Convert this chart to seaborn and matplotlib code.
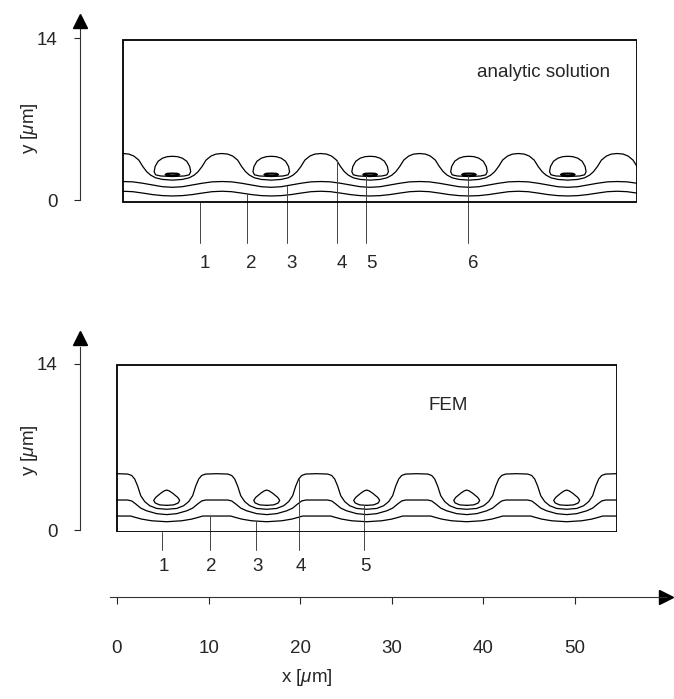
import numpy as np
import pandas as pd
import matplotlib
matplotlib.use("Agg")
import matplotlib.pyplot as plt
from matplotlib.patches import Rectangle
from matplotlib import transforms
import seaborn as sns

# ---------------- data ----------------
# centres of the periodic cells (x in um)
top_centers = [5, 15, 25, 35, 45, 55]
bot_centers = [5, 15, 25, 35, 45]
loop_centers = [5, 15, 25, 35, 45]

# analytic solution: half-period profiles (offset from cell centre, y in um)
top_a_dx = [0, 1.0, 1.7, 2.2, 2.6, 3.0, 3.4, 3.9, 4.4, 5.0]
top_a_y = [1.72, 1.78, 1.92, 2.15, 2.45, 2.9, 3.45, 3.8, 3.97, 4.02]
top_b_dx = [0, 1.0, 2.0, 3.0, 4.0, 5.0]
top_b_y = [1.1, 1.15, 1.3, 1.45, 1.57, 1.6]
top_c_dx = [0, 1.0, 2.0, 3.0, 4.0, 5.0]
top_c_y = [0.35, 0.38, 0.47, 0.6, 0.72, 0.76]
top_loop_dx = [0, 1.2, 1.7, 1.85, 1.75, 1.45, 1.0, 0.5, 0]
top_loop_y = [2.03, 2.08, 2.18, 2.45, 2.9, 3.35, 3.62, 3.75, 3.78]
top_dash_dx = [0, 0.5, 0.7, 0.5, 0]
top_dash_y = [2.1, 2.12, 2.2, 2.28, 2.3]

# FEM: half-period profiles
bot_a_dx = [0, 1.0, 1.7, 2.2, 2.6, 2.9, 3.2, 3.5, 3.9, 5.0]
bot_a_y = [1.75, 1.82, 2.05, 2.4, 2.9, 3.7, 4.3, 4.6, 4.72, 4.75]
bot_b_dx = [0, 1.0, 2.0, 2.6, 3.1, 3.5, 3.9, 5.0]
bot_b_y = [1.3, 1.38, 1.62, 1.85, 2.2, 2.45, 2.53, 2.53]
bot_c_dx = [0, 1.5, 2.5, 3.2, 3.6, 5.0]
bot_c_y = [0.7, 0.78, 0.92, 1.08, 1.18, 1.18]
bot_loop_dx = [0, 0.7, 1.15, 1.3, 1.1, 0.6, 0.25, 0]
bot_loop_y = [2.08, 2.12, 2.28, 2.5, 2.75, 3.1, 3.3, 3.37]

# numbered leaders
top_labels = ["1", "2", "3", "4", "5", "6"]
top_leader_x = [7.8, 12.5, 16.6, 21.6, 24.6, 34.9]
top_leader_target = ["box", "c", "b", "a", "dash", "dash"]
bot_labels = ["1", "2", "3", "4", "5"]
bot_leader_x = [4.5, 9.3, 13.9, 18.2, 24.7]
bot_leader_target = ["box", "c", "c", "a", "loop"]

x_ticks = [0, 10, 20, 30, 40, 50]
y_ticks = [0, 14]

# ---------------- styling ----------------
sns.set_style("white")
plt.rcParams["font.family"] = ["Liberation Sans", "DejaVu Sans"]
plt.rcParams["mathtext.fontset"] = "custom"
plt.rcParams["mathtext.rm"] = "Liberation Sans"
plt.rcParams["mathtext.it"] = "Liberation Sans:italic"
FS = 13.5
LW = 0.9

W, H = 674, 699
fig = plt.figure(figsize=(W / 100, H / 100), dpi=100)


def fx(px):
    return px / W


def fy(py):
    return 1 - py / H


def periodic_line(dx_half, y_half, centers, x0, x1):
    dxh = np.asarray(dx_half, float)
    yh = np.asarray(y_half, float)
    dx = np.concatenate([-dxh[:0:-1], dxh])
    yy = np.concatenate([yh[:0:-1], yh])
    xs = np.concatenate([c + dx for c in centers])
    ys = np.tile(yy, len(centers))
    keep = np.r_[True, np.diff(xs) > 1e-9]
    xs, ys = xs[keep], ys[keep]
    ye = np.interp([x0, x1], xs, ys)
    m = (xs > x0) & (xs < x1)
    return np.r_[x0, xs[m], x1], np.r_[ye[0], ys[m], ye[1]]


def loops(dx_half, y_half, centers):
    dxh = np.asarray(dx_half, float)
    yh = np.asarray(y_half, float)
    rows = []
    for i, c in enumerate(centers):
        xs = np.r_[c + dxh, c - dxh[::-1]]
        ys = np.r_[yh, yh[::-1]]
        for x, y in zip(xs, ys):
            rows.append({"x": x, "y": y, "unit": i})
    return pd.DataFrame(rows)


def draw_line(ax, xs, ys, lw=LW):
    sns.lineplot(x=xs, y=ys, sort=False, estimator=None, color="black",
                 linewidth=lw, ax=ax, legend=False)


def draw_loops(ax, df, lw=LW):
    sns.lineplot(data=df, x="x", y="y", units="unit", estimator=None,
                 sort=False, color="black", linewidth=lw, ax=ax, legend=False)


def setup_panel(ax, xlim, ylim, box, spine_top, arrow_y, ylabel_py):
    ax.set_xlim(*xlim)
    ax.set_ylim(*ylim)
    for s in ["top", "right", "bottom"]:
        ax.spines[s].set_visible(False)
    ax.spines["left"].set_bounds(0, spine_top)
    ax.spines["left"].set_linewidth(0.8)
    ax.spines["left"].set_color("#333333")
    ax.set_xticks([])
    ax.set_yticks(y_ticks)
    ax.set_yticklabels([str(t) for t in y_ticks])
    ax.tick_params(axis="y", direction="out", length=4, width=0.8,
                   pad=12, labelsize=FS, left=True)
    ax.add_patch(Rectangle((box[0], box[1]), box[2] - box[0], box[3] - box[1],
                           fill=False, ec="black", lw=1.3, zorder=3))
    ax.plot([xlim[0]], [arrow_y], marker="^", ms=10, color="black",
            clip_on=False, zorder=4)
    ax.set_ylabel("y [$\\mu$m]", fontsize=FS)
    ax.yaxis.label.set_va("center")
    ax.yaxis.set_label_coords(fx(29), fy(ylabel_py), transform=fig.transFigure)
    ax.set_xlabel("")
    ax.patch.set_alpha(0)


# ---------------- top panel: analytic solution ----------------
ax1 = fig.add_axes([fx(80), fy(203.5), (637 - 80) / W, (203.5 - 20.7) / H])
t_box = (0, -0.2, 52, 13.83)
ta = periodic_line(top_a_dx, top_a_y, top_centers, 0, 52)
tb = periodic_line(top_b_dx, top_b_y, top_centers, 0, 52)
tc = periodic_line(top_c_dx, top_c_y, top_centers, 0, 52)
for xs, ys in (ta, tb, tc):
    draw_line(ax1, xs, ys)
draw_loops(ax1, loops(top_loop_dx, top_loop_y, loop_centers))
draw_loops(ax1, loops(top_dash_dx, top_dash_y, loop_centers), lw=1.4)
setup_panel(ax1, (-4.35, 52), (-0.3, 15.5), t_box, 15.0, 15.45, 128)
ax1.text(42.5, 11.06, "analytic solution", ha="center", va="center", fontsize=FS)

t_lines = {"a": ta, "b": tb, "c": tc}
for lab, lx, tg in zip(top_labels, top_leader_x, top_leader_target):
    if tg == "box":
        y0 = t_box[1]
    elif tg == "dash":
        y0 = top_dash_y[0]
    else:
        y0 = np.interp(lx, *t_lines[tg])
    ax1.plot([lx, lx], [y0, -3.7], color="#444444", lw=0.7, clip_on=False)
    ax1.text(lx + 0.5, -5.45, lab, ha="center", va="center", fontsize=FS,
             clip_on=False)

# ---------------- bottom panel: FEM ----------------
ax2 = fig.add_axes([fx(80), fy(532.4), (616.7 - 80) / W, (532.4 - 328.4) / H])
b_box = (0, -0.17, 50, 13.9)
ba = periodic_line(bot_a_dx, bot_a_y, bot_centers, 0, 50)
bb = periodic_line(bot_b_dx, bot_b_y, bot_centers, 0, 50)
bc = periodic_line(bot_c_dx, bot_c_y, bot_centers, 0, 50)
for xs, ys in (ba, bb, bc):
    draw_line(ax2, xs, ys)
draw_loops(ax2, loops(bot_loop_dx, bot_loop_y, loop_centers))
setup_panel(ax2, (-3.67, 50), (-0.2, 17.0), b_box, 15.4, 16.2, 450)
ax2.text(33.1, 10.5, "FEM", ha="center", va="center", fontsize=FS)

b_lines = {"a": ba, "b": bb, "c": bc}
for lab, lx, tg in zip(bot_labels, bot_leader_x, bot_leader_target):
    if tg == "box":
        y0 = b_box[1]
    elif tg == "loop":
        y0 = bot_loop_y[0]
    else:
        y0 = np.interp(lx, *b_lines[tg])
    ax2.plot([lx, lx], [y0, -1.7], color="#444444", lw=0.7, clip_on=False)
    ax2.text(lx + 0.2, -3.1, lab, ha="center", va="center", fontsize=FS,
             clip_on=False)

# ---------------- shared x axis ----------------
ax3 = fig.add_axes([fx(110), fy(597), (666 - 110) / W, 0.001])
ax3.set_xlim(-0.76, 59.93)
ax3.set_ylim(0, 1)
for s in ["top", "right", "left"]:
    ax3.spines[s].set_visible(False)
ax3.spines["bottom"].set_linewidth(0.8)
ax3.spines["bottom"].set_color("#333333")
ax3.set_yticks([])
ax3.set_xticks(x_ticks)
ax3.set_xticklabels([str(t) for t in x_ticks])
ax3.tick_params(axis="x", direction="out", length=5, width=0.8, pad=26,
                labelsize=FS, bottom=True)
ax3.plot([59.93], [0], marker=">", ms=10, color="black", clip_on=False)
ax3.set_xlabel("x [$\\mu$m]", fontsize=FS)
ax3.xaxis.label.set_va("center")
ax3.xaxis.set_label_coords(
    (307 - 110) / (666 - 110), fy(677),
    transform=transforms.blended_transform_factory(ax3.transAxes, fig.transFigure))
ax3.patch.set_alpha(0)

fig.savefig("out.png", dpi=100, facecolor="white")
